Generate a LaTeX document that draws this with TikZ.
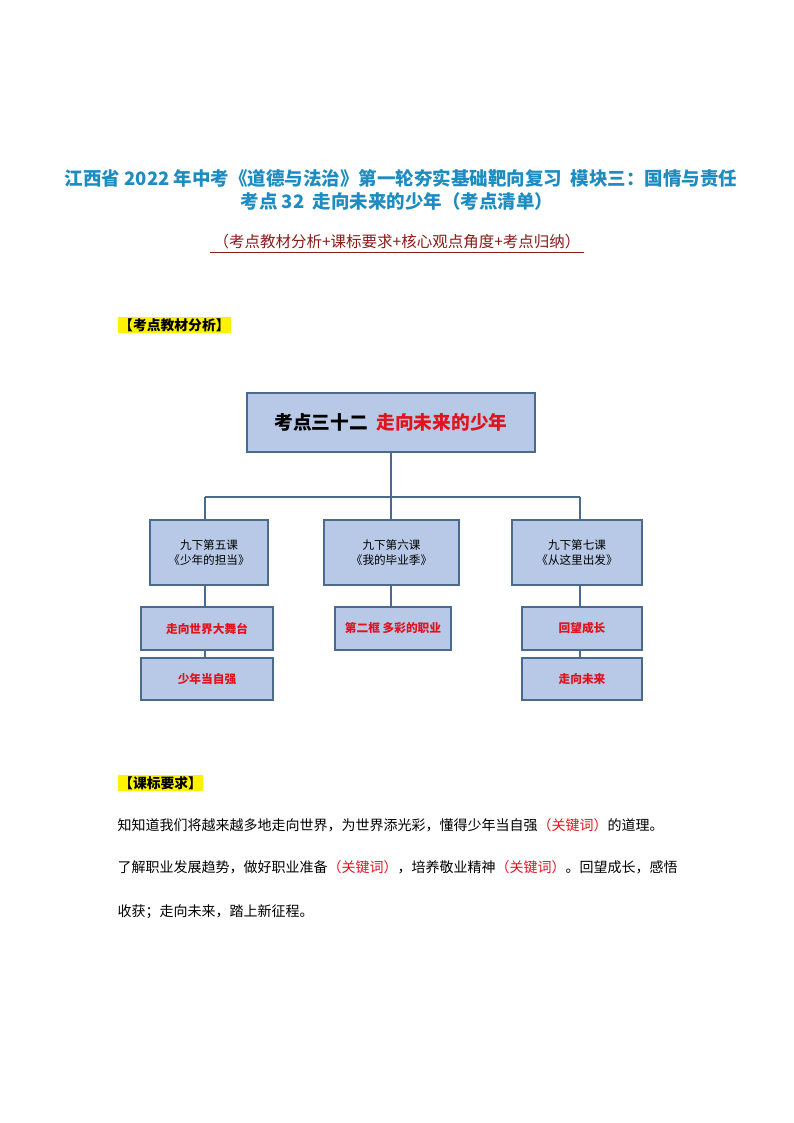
\documentclass[tikz,border=0pt]{standalone}
\usepackage{fontspec}
\setmainfont{Noto Sans CJK SC}
\usetikzlibrary{shadows}
\definecolor{ttl}{HTML}{1E8CC0}
\definecolor{boxf}{HTML}{B7C9E6}
\definecolor{boxd}{HTML}{4A6B8E}
\definecolor{red1}{HTML}{E0141E}
\definecolor{sub}{HTML}{8B1A1A}
\tikzset{
 bx/.style={draw=boxd,line width=1.6pt,fill=boxf,inner sep=0pt,drop shadow={shadow xshift=1pt,shadow yshift=-1pt,opacity=.4}},
 ln/.style={draw=boxd,line width=2.6pt},
 rt/.style={text=red1,font=\fontsize{11.7}{14}\selectfont\bfseries},
 bt/.style={font=\fontsize{11.6}{15}\selectfont,align=center},
 body/.style={anchor=west,font=\fontsize{14}{16}\selectfont}
}
\begin{document}
\begin{tikzpicture}[x=1pt,y=-1pt]
\useasboundingbox (0,0) rectangle (794,1123);
\node[text=ttl,font=\fontsize{18.5}{21}\selectfont\bfseries] (t1) at (401,178) {江西省 2022 年中考《道德与法治》第一轮夯实基础靶向复习\ \ 模块三：国情与责任};
\node[text=ttl,font=\fontsize{18.5}{21}\selectfont\bfseries] (t2) at (397,201) {考点 32\ \ 走向未来的少年（考点清单）};
\node[text=sub,font=\fontsize{15.5}{17}\selectfont] (t3) at (397,242) {（考点教材分析+课标要求+核心观点角度+考点归纳）};
\draw[sub,line width=0.8pt] ([yshift=1pt]t3.south west) -- ([yshift=1pt]t3.south east);
\node[fill=yellow,inner sep=1pt,font=\fontsize{13.8}{15}\selectfont\bfseries,anchor=west] (h1) at (118,325) {【考点教材分析】};
% chart
\coordinate (hl) at (205,497);
\coordinate (hr) at (580,497);
\coordinate (hm) at (391,497);
\node[bx,minimum width=288,minimum height=59] (top) at (391,422.5) {\fontsize{18.7}{21}\selectfont\bfseries 考点三十二\ \ \textcolor{red1}{走向未来的少年}};
\node[bx,minimum width=118,minimum height=65] (a1) at (209,552.5) {};
\node[bt] at (a1) {九下第五课\\《少年的担当》};
\node[bx,minimum width=135,minimum height=65] (b1) at (391.5,552.5) {};
\node[bt] at (b1) {九下第六课\\《我的毕业季》};
\node[bx,minimum width=130,minimum height=65] (c1) at (577,552.5) {};
\node[bt] at (c1) {九下第七课\\《从这里出发》};
\node[bx,minimum width=132,minimum height=43,rt] (a2) at (207,628.5) {走向世界大舞台};
\node[bx,minimum width=116,minimum height=43,rt] (b2) at (393,628.5) {第二框\ 多彩的职业};
\node[bx,minimum width=120,minimum height=43,rt] (c2) at (582,628.5) {回望成长};
\node[bx,minimum width=132,minimum height=42,rt] (a3) at (207,679) {少年当自强};
\node[bx,minimum width=120,minimum height=42,rt] (c3) at (582,679) {走向未来};
\draw[ln] (top.south) -- (hm) (hl) -- (hr) (hl) -- (a1.north-|hl) (hm) -- (b1.north-|hm) (hr) -- (c1.north-|hr);
\draw[ln] (a1.south-|hl) -- (a2.north-|hl) (a2.south-|hl) -- (a3.north-|hl);
\draw[ln] (b1.south-|hm) -- (b2.north-|hm);
\draw[ln] (c1.south-|hr) -- (c2.north-|hr) (c2.south-|hr) -- (c3.north-|hr);
% text
\node[fill=yellow,inner sep=1pt,font=\fontsize{13.8}{15}\selectfont\bfseries,anchor=west] (h2) at (118,783) {【课标要求】};
\node[body] (p1) at (114,825) {知知道我们将越来越多地走向世界，为世界添光彩，懂得少年当自强\textcolor{red1}{（关键词）}的道理。};
\node[body] (p2) at (114,867) {了解职业发展趋势，做好职业准备\textcolor{red1}{（关键词）}，培养敬业精神\textcolor{red1}{（关键词）}。回望成长，感悟};
\node[body] (p3) at (114,912) {收获；走向未来，踏上新征程。};
\end{tikzpicture}
\end{document}
